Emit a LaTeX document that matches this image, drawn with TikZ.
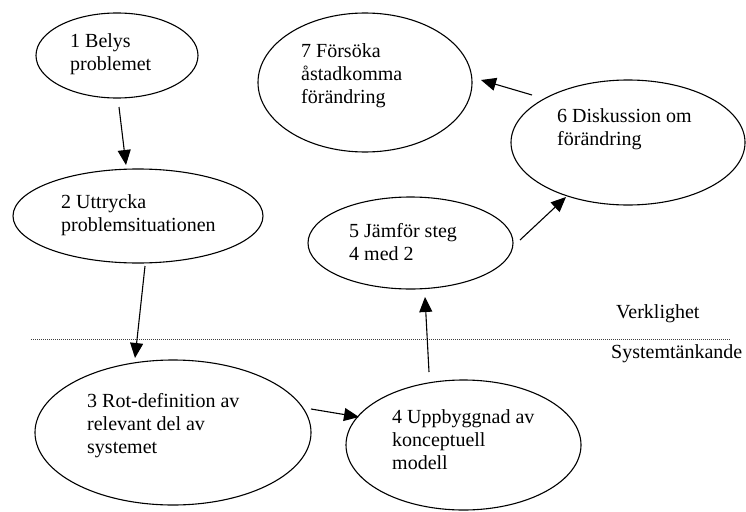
\documentclass[tikz,border=0pt]{standalone}
\usepackage{fontspec}
\setmainfont{Liberation Serif}
\usetikzlibrary{shapes.geometric,arrows.meta}
\begin{document}
\begin{tikzpicture}[x=1pt,y=-1pt,
  oval/.style={draw, ellipse, line width=1.1pt, inner sep=0pt},
  lbl/.style={anchor=base west, inner sep=0pt, font=\fontsize{20}{23}\selectfont},
  arr/.style={-{Triangle[length=15pt,width=13pt]}, line width=1.1pt},
  sep/.style={line width=0.9pt, dash pattern=on 1pt off 1pt, black!75}]
\useasboundingbox (0,0) rectangle (746,511);
% ellipses
\node[oval, minimum width=162pt, minimum height=85pt] (e1) at (117,55.5) {};
\node[oval, minimum width=250pt, minimum height=94pt] (e2) at (138,216) {};
\node[oval, minimum width=276pt, minimum height=145pt] (e3) at (173,432.5) {};
\node[oval, minimum width=235pt, minimum height=130pt] (e4) at (463.5,445) {};
\node[oval, minimum width=205pt, minimum height=92pt] (e5) at (410.5,243) {};
\node[oval, minimum width=234pt, minimum height=125pt] (e6) at (628,142.5) {};
\node[oval, minimum width=214pt, minimum height=139pt] (e7) at (365,82.5) {};
% texts
\node[lbl] (t1) at (70,48) {\begin{tabular}[t]{@{}l@{}}1 Belys\\problemet\end{tabular}};
\node[lbl] (t2) at (61,208) {\begin{tabular}[t]{@{}l@{}}2 Uttrycka\\problemsituationen\end{tabular}};
\node[lbl] (t3) at (87,407) {\begin{tabular}[t]{@{}l@{}}3 Rot-definition av\\relevant del av\\systemet\end{tabular}};
\node[lbl] (t4) at (392,423) {\begin{tabular}[t]{@{}l@{}}4 Uppbyggnad av\\konceptuell\\modell\end{tabular}};
\node[lbl] (t5) at (349,237) {\begin{tabular}[t]{@{}l@{}}5 Jämför steg\\4 med 2\end{tabular}};
\node[lbl] (t6) at (557,122) {\begin{tabular}[t]{@{}l@{}}6 Diskussion om\\förändring\end{tabular}};
\node[lbl] (t7) at (301,57) {\begin{tabular}[t]{@{}l@{}}7 Försöka\\åstadkomma\\förändring\end{tabular}};
% separator
\coordinate (sl) at (31,339);
\coordinate (sr) at (731,339);
\draw[sep] (sl) -- (sr);
\node[lbl] (verk) at (616,318) {Verklighet};
\node[lbl] (syst) at (611,358) {Systemtänkande};
% arrows
\draw[arr] ([shift={(2,51.5)}]e1.center) -- ([shift={(-12,-51)}]e2.center);
\draw[arr] ([shift={(7,50)}]e2.center) -- ([shift={(-38,-74.5)}]e3.center);
\draw[arr] ([shift={(138,-23.5)}]e3.center) -- ([shift={(-104.5,-28)}]e4.center);
\draw[arr] ([shift={(-34.5,-73)}]e4.center) -- ([shift={(14.5,54)}]e5.center);
\draw[arr] ([shift={(109.5,-3)}]e5.center) -- ([shift={(-62,54.5)}]e6.center);
\draw[arr] ([shift={(-96,-47.5)}]e6.center) -- ([shift={(116,-2.5)}]e7.center);
\end{tikzpicture}
\end{document}
